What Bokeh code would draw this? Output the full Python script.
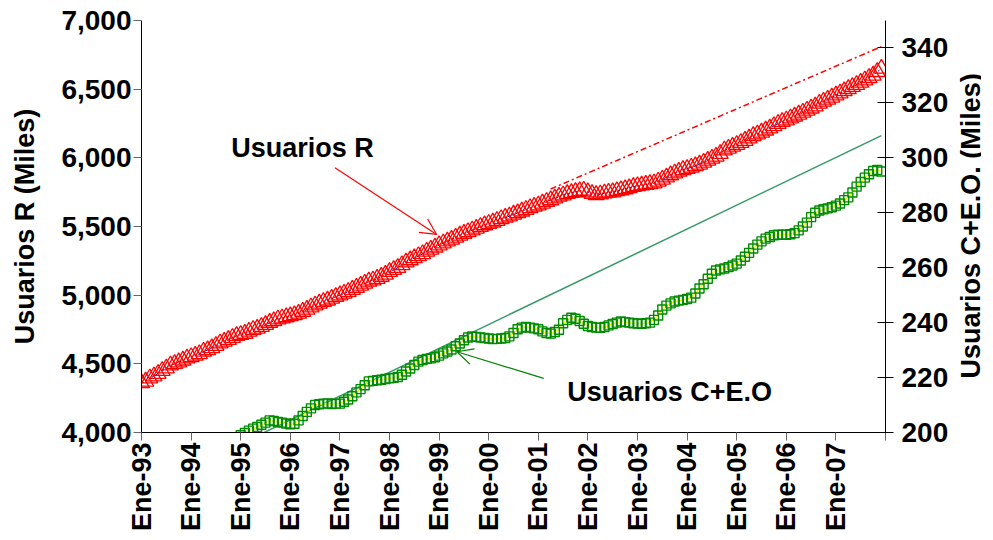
import math
from bokeh.plotting import figure
from bokeh.models import (Range1d, LinearAxis, FixedTicker, NumeralTickFormatter,
                          Label, Arrow, OpenHead)
from bokeh.embed import file_html
from bokeh.resources import INLINE

# ---------------- data ----------------
# months since Jan-1993 (0 = Ene-93)
red_months = list(range(0, 180))
red_users = [
    4360, 4372, 4395, 4410, 4428, 4450, 4468, 4490, 4500, 4512, 4525, 4540,   # 1993
    4550, 4560, 4572, 4590, 4600, 4615, 4632, 4650, 4662, 4675, 4690, 4704,   # 1994
    4712, 4720, 4735, 4748, 4757, 4770, 4784, 4800, 4812, 4825, 4832, 4840,   # 1995
    4848, 4855, 4866, 4880, 4895, 4912, 4927, 4940, 4952, 4962, 4975, 4988,   # 1996
    5000, 5012, 5025, 5040, 5055, 5070, 5085, 5100, 5109, 5120, 5135, 5150,   # 1997
    5170, 5185, 5200, 5220, 5240, 5255, 5270, 5285, 5300, 5318, 5332, 5348,   # 1998
    5364, 5378, 5392, 5405, 5420, 5435, 5448, 5460, 5473, 5485, 5498, 5510,   # 1999
    5520, 5530, 5542, 5555, 5565, 5575, 5588, 5598, 5610, 5622, 5635, 5645,   # 2000
    5655, 5668, 5680, 5692, 5705, 5718, 5728, 5738, 5745, 5752, 5758, 5762,   # 2001
    5750, 5738, 5730, 5735, 5742, 5748, 5750, 5758, 5765, 5772, 5780, 5789,   # 2002
    5795, 5800, 5805, 5810, 5815, 5828, 5842, 5858, 5874, 5888, 5900, 5912,   # 2003
    5920, 5930, 5940, 5952, 5966, 5980, 5995, 6010, 6030, 6055, 6068, 6082,   # 2004
    6095, 6110, 6125, 6142, 6160, 6172, 6185, 6200, 6215, 6232, 6248, 6262,   # 2005
    6274, 6288, 6302, 6316, 6330, 6345, 6360, 6375, 6396, 6410, 6425, 6440,   # 2006
    6455, 6470, 6486, 6502, 6517, 6532, 6548, 6565, 6582, 6600, 6626, 6650,   # 2007
]

green_months = list(range(24, 180))
green_users = [
    199.0, 199.8, 200.7, 201.4, 202.0, 202.8, 203.6, 204.4, 204.2, 203.8, 203.6, 203.3,  # 1995
    203.0, 203.2, 204.4, 206.0, 207.5, 208.8, 210.0, 210.3, 210.5, 210.6, 210.4, 210.5,  # 1996
    210.5, 211.2, 212.0, 213.2, 214.6, 215.8, 217.2, 218.6, 218.8, 219.0, 219.2, 219.5,  # 1997
    219.7, 219.9, 220.2, 221.0, 222.2, 223.3, 224.6, 225.8, 226.4, 226.8, 227.0, 227.4,  # 1998
    228.0, 228.8, 229.5, 230.2, 231.4, 232.4, 233.6, 234.6, 235.0, 234.8, 234.6, 234.4,  # 1999
    234.2, 234.0, 234.1, 234.2, 234.4, 235.0, 236.2, 237.6, 238.2, 238.4, 238.2, 237.9,  # 2000
    237.6, 236.8, 236.2, 236.0, 236.6, 237.4, 239.8, 241.0, 241.8, 241.4, 240.6, 239.6,  # 2001
    238.8, 238.4, 238.2, 238.1, 238.4, 239.0, 239.5, 240.0, 240.4, 240.2, 240.0, 239.8,  # 2002
    239.7, 239.6, 239.8, 240.0, 241.0, 242.6, 244.8, 246.2, 247.0, 247.7, 248.0, 248.3,  # 2003
    248.6, 249.1, 250.6, 252.4, 254.0, 256.0, 257.8, 259.0, 259.4, 259.7, 260.2, 260.8,  # 2004
    261.5, 262.6, 264.0, 265.4, 267.0, 268.4, 269.6, 270.6, 271.2, 271.8, 272.0, 272.0,  # 2005
    272.0, 272.2, 272.6, 273.6, 275.0, 276.4, 278.4, 280.0, 280.8, 281.3, 281.6, 282.0,  # 2006
    282.6, 283.4, 284.6, 285.6, 287.4, 289.5, 291.2, 292.8, 294.0, 295.2, 295.6, 295.0,  # 2007
]

# trend lines (end points)
red_trend_months = [99, 179]
red_trend_vals = [5773, 6810]
green_trend_months = [24, 179]
green_trend_vals = [195.9, 308.1]

x_ticks = list(range(0, 181, 12))
x_tick_labels = ["Ene-93", "Ene-94", "Ene-95", "Ene-96", "Ene-97", "Ene-98", "Ene-99",
                 "Ene-00", "Ene-01", "Ene-02", "Ene-03", "Ene-04", "Ene-05", "Ene-06",
                 "Ene-07", ""]
left_ticks = [4000, 4500, 5000, 5500, 6000, 6500, 7000]
right_ticks = [200, 220, 240, 260, 280, 300, 320, 340]

FONT = "Liberation Sans"
FS = "27px"
FS_TICK = "28px"

p = figure(frame_width=744, frame_height=412, output_backend="svg",
           toolbar_location=None,
           x_range=Range1d(0, 180), y_range=Range1d(4000, 7000),
           min_border_left=141, min_border_right=0, min_border_top=20,
           min_border_bottom=0)
p.extra_y_ranges = {"right": Range1d(200, 350)}
p.outline_line_color = None
p.xgrid.visible = False
p.ygrid.visible = False
p.background_fill_color = "white"

# red trend (dashed) under markers
p.line(red_trend_months, red_trend_vals, line_color="#FF0000", line_width=1.5,
       line_dash="6 3 2 3")
# red series
p.line(red_months, red_users, line_color="#000080", line_width=1, line_dash="2 2")
p.scatter(red_months, red_users, marker="triangle", size=16, line_color="#FF0000",
          fill_color=None, line_width=1.3)

# green trend
p.line(green_trend_months, green_trend_vals, line_color="#339966", line_width=1.5,
       y_range_name="right")
# green series
p.line(green_months, green_users, line_color="#FFFF00", line_width=1.5,
       y_range_name="right")
p.scatter(green_months, green_users, marker="square", size=9, line_color="#008C00",
          fill_color=None, line_width=1.4, y_range_name="right")

# axes styling
xa = p.xaxis[0]
xa.ticker = FixedTicker(ticks=x_ticks)
xa.major_label_overrides = {t: l for t, l in zip(x_ticks, x_tick_labels)}
xa.major_label_orientation = math.pi / 2
xa.major_label_text_font = FONT
xa.major_label_text_font_style = "bold"
xa.major_label_text_font_size = FS
xa.major_label_text_color = "black"
xa.major_label_standoff = 2
xa.major_tick_out = 8
xa.major_tick_in = 0
xa.minor_tick_out = 0
xa.minor_tick_in = 0
xa.axis_line_color = "black"
xa.major_tick_line_color = "#666666"

ya = p.yaxis[0]
ya.ticker = FixedTicker(ticks=left_ticks)
ya.formatter = NumeralTickFormatter(format="0,0")
ya.axis_label = "Usuarios R (Miles)"
ya.axis_label_text_font = FONT
ya.axis_label_text_font_style = "bold"
ya.axis_label_text_font_size = FS
ya.axis_label_text_color = "black"
ya.axis_label_standoff = 18
ya.major_label_text_font = FONT
ya.major_label_text_font_style = "bold"
ya.major_label_text_font_size = FS_TICK
ya.major_label_text_color = "black"
ya.major_label_standoff = 2
ya.major_tick_out = 8
ya.major_tick_in = 0
ya.minor_tick_out = 0
ya.minor_tick_in = 0
ya.axis_line_color = "black"
ya.major_tick_line_color = "#666666"

ra = LinearAxis(y_range_name="right", ticker=FixedTicker(ticks=right_ticks))
ra.major_label_text_font = FONT
ra.major_label_text_font_style = "bold"
ra.major_label_text_font_size = FS_TICK
ra.major_label_text_color = "black"
ra.major_label_standoff = 8
ra.major_tick_out = 8
ra.major_tick_in = 8
ra.minor_tick_out = 0
ra.minor_tick_in = 0
ra.axis_line_color = "black"
ra.major_tick_line_color = "black"
p.add_layout(ra, "right")

# right axis title: rotated label in the right side panel (reads bottom to top)
p.add_layout(Label(x=200.6, y=275.2, y_range_name="right",
                   text="Usuarios C+E.O. (Miles)", angle=math.pi / 2,
                   text_font=FONT, text_font_style="bold", text_font_size=FS,
                   text_color="black", text_align="center",
                   text_baseline="alphabetic"), "right")

# annotations
p.add_layout(Label(x=21.7, y=6075, text="Usuarios R", text_font=FONT,
                   text_font_style="bold", text_font_size=FS, text_color="black",
                   text_baseline="alphabetic", text_align="left"))
p.add_layout(Arrow(x_start=46.8, y_start=5927, x_end=71.4, y_end=5442,
                   line_color="#FF0000", line_width=1.2,
                   end=OpenHead(size=16, line_color="#FF0000", line_width=1.2)))
p.add_layout(Label(x=103, y=214.6, y_range_name="right", text="Usuarios C+E.O",
                   text_font=FONT, text_font_style="bold", text_font_size=FS,
                   text_color="black", text_baseline="alphabetic", text_align="left"))
p.add_layout(Arrow(x_start=97.3, y_start=219.7, x_end=76.3, y_end=229.4,
                   y_range_name="right", line_color="#008000", line_width=1.2,
                   end=OpenHead(size=16, line_color="#008000", line_width=1.2)))

open("out.html", "w").write(file_html(p, INLINE))
